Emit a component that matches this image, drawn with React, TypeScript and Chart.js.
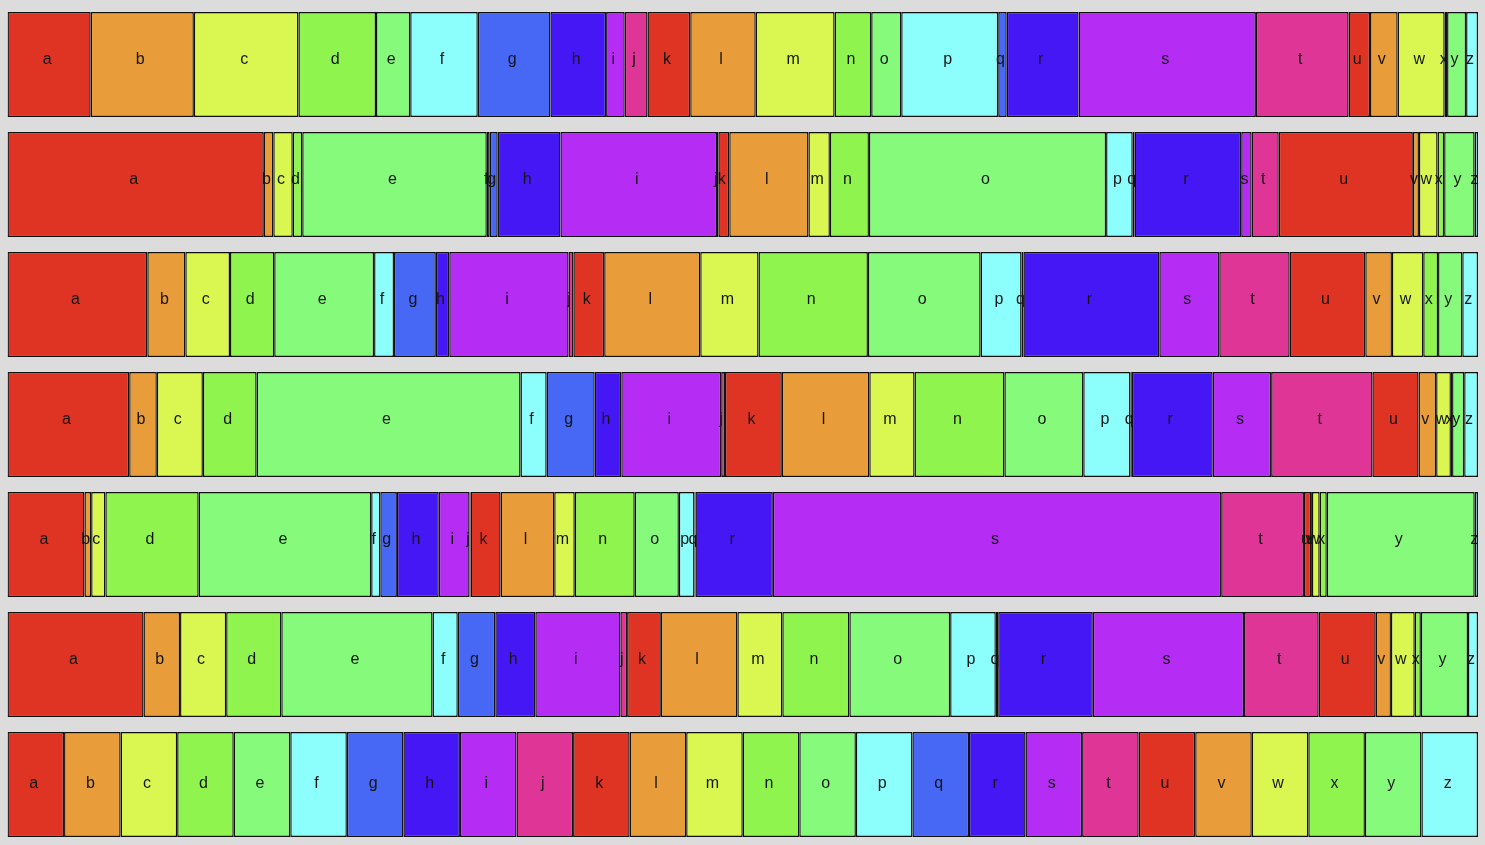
import React, { useEffect, useRef } from "react";
import { Chart, registerables } from "chart.js";

Chart.register(...registerables);

const letters = "abcdefghijklmnopqrstuvwxyz".split("");
const rowNames = ["1", "2", "3", "4", "5", "6", "7"];

const row1 = [83.1, 103.1, 104.5, 77.5, 34.2, 67.5, 72.6, 55.6, 18.6, 22.8, 42.7, 65.4, 78.8, 36.6, 30.0, 96.9, 8.5, 71.8, 177.2, 92.6, 21.4, 27.6, 47.0, 2.4, 19.0, 11.9];
const row2 = [256.1, 9.5, 19.4, 9.5, 184.4, 2.9, 8.0, 62.7, 156.4, 1.4, 10.9, 79.1, 21.4, 39.0, 237.0, 26.6, 1.9, 106.5, 10.4, 27.1, 134.0, 6.1, 18.6, 6.6, 30.4, 3.4];
const row3 = [139.7, 38.0, 44.6, 44.2, 99.8, 19.9, 41.8, 13.4, 119.2, 4.8, 30.8, 96.0, 58.2, 109.3, 112.6, 40.9, 1.9, 135.8, 59.9, 70.3, 75.6, 26.6, 31.3, 14.8, 24.2, 15.7];
const row4 = [121.6, 27.6, 46.0, 53.7, 263.7, 26.1, 48.0, 26.6, 99.8, 3.8, 56.8, 87.4, 45.2, 89.8, 78.8, 47.1, 1.4, 80.8, 58.4, 101.2, 46.1, 17.6, 14.7, 1.2, 12.1, 13.8];
const row5 = [76.9, 6.7, 14.2, 93.2, 172.4, 9.1, 16.6, 41.8, 30.8, 1.0, 30.0, 53.6, 20.5, 59.9, 44.1, 15.6, 1.0, 77.3, 448.0, 82.7, 7.1, 0.9, 7.7, 7.1, 147.8, 3.3];
const row6 = [135.9, 36.5, 46.1, 55.1, 151.1, 25.2, 37.5, 40.0, 85.0, 6.7, 33.7, 76.5, 44.9, 67.0, 100.7, 45.6, 2.4, 94.5, 151.1, 74.6, 57.0, 15.2, 23.8, 6.1, 47.1, 10.0];
const row7 = [1, 1, 1, 1, 1, 1, 1, 1, 1, 1, 1, 1, 1, 1, 1, 1, 1, 1, 1, 1, 1, 1, 1, 1, 1, 1];

const rows = [row1, row2, row3, row4, row5, row6, row7];

const palette = [
  "#df3423", "#e89c3a", "#d9f651", "#8ff54e", "#86fa7b",
  "#8cfefc", "#4768f5", "#4517f5", "#b52df4", "#df3596",
];

const labelPlugin = {
  id: "segLabels",
  afterDatasetsDraw(chart: any) {
    const ctx = chart.ctx;
    ctx.save();
    ctx.font = '16px "Liberation Sans", Arial, sans-serif';
    ctx.fillStyle = "#151515";
    ctx.textAlign = "center";
    ctx.textBaseline = "middle";
    const last = chart.data.labels.length - 1;
    chart.data.datasets.forEach((ds: any, di: number) => {
      const meta = chart.getDatasetMeta(di);
      meta.data.forEach((el: any, idx: number) => {
        const cx = (el.x + el.base) / 2 - 2;
        const dy = idx === last ? -1 : -5;
        ctx.fillText(ds.label, cx, el.y + dy);
      });
    });
    ctx.restore();
  },
};

export default function App() {
  const ref = useRef<HTMLCanvasElement>(null);
  useEffect(() => {
    const sums = rows.map((r) => r.reduce((a, b) => a + b, 0));
    const datasets = letters.map((l, i) => ({
      label: l,
      data: rows.map((r, ri) => (r[i] / sums[ri]) * 100),
      backgroundColor: palette[i % palette.length],
      borderColor: "#111111",
      borderWidth: 1.4,
      borderSkipped: false,
      barPercentage: 1,
      categoryPercentage: 0.875,
    }));
    const chart = new Chart(ref.current!, {
      type: "bar",
      data: { labels: rowNames, datasets },
      options: {
        indexAxis: "y",
        animation: false,
        responsive: false,
        maintainAspectRatio: false,
        layout: { padding: { left: 7.5, right: 7, top: 4.5, bottom: 0.5 } },
        plugins: { legend: { display: false }, tooltip: { enabled: false } },
        scales: {
          x: { stacked: true, min: 0, max: 100, display: false },
          y: { stacked: true, display: false },
        },
      },
      plugins: [labelPlugin],
    } as any);
    return () => chart.destroy();
  }, []);
  return (
    <div style={{ position: "fixed", left: 0, top: 0, width: 1485, height: 845, background: "#dcdcdc" }}>
      <canvas ref={ref} width={1485} height={845} style={{ display: "block" }} />
    </div>
  );
}
